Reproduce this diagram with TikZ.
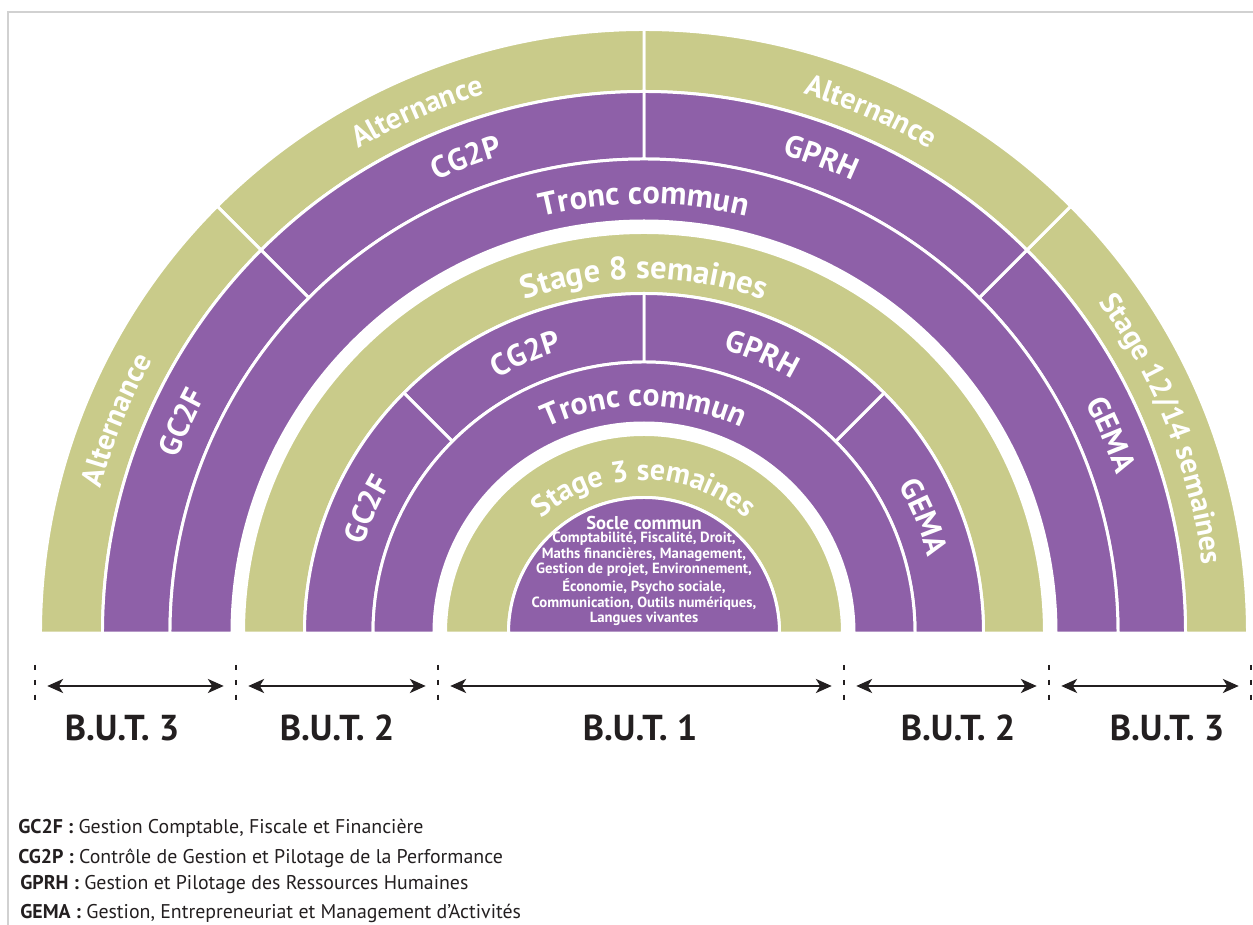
\documentclass[tikz,border=0pt]{standalone}
\usepackage{fontspec}
\setmainfont{PT Sans}
\usetikzlibrary{decorations.text,arrows.meta}
\definecolor{ringolive}{HTML}{C9CB8A}
\definecolor{ringpurple}{HTML}{8E60A8}
\definecolor{inkdark}{HTML}{231F20}
\tikzset{oband/.style={fill=ringolive,draw=white,line width=1.7pt,line join=round}}
\tikzset{pband/.style={fill=ringpurple,draw=white,line width=1.7pt,line join=round}}
\tikzset{tick/.style={draw=inkdark,line width=1.3pt,dash pattern=on 3pt off 5.4pt}}
\tikzset{butspan/.style={<->,>={Stealth[length=9pt,width=8pt,inset=2.5pt]},draw=inkdark,line width=1.2pt,shorten <=7pt,shorten >=7pt}}
\tikzset{but/.style={font=\bfseries\fontsize{20.5}{20.5}\selectfont,text=inkdark}}
\tikzset{key/.style={anchor=west,inner sep=0pt,font=\fontsize{11.3}{11.3}\selectfont,text=inkdark}}
\tikzset{socle/.style={text=white,align=center,inner sep=0pt}}
\tikzset{frame/.style={draw=black!18,line width=0.8pt}}
% annular sector: style, from angle, to angle, outer r, inner r
\newcommand{\band}[5]{\path[#1] (#2:#4) arc[start angle=#2,end angle=#3,radius=#4] -- (#3:#5) arc[start angle=#3,end angle=#2,radius=#5] -- cycle;}
% white text along a ring: text, centre angle, baseline r, size
\newcommand{\ringlabel}[4]{\path[decorate,decoration={text along path,text align=center,text={|\color{white}\bfseries\fontsize{#4}{#4}\selectfont|#1}}] ({#2+60}:#3) arc[start angle={#2+60},end angle={#2-60},radius=#3];}

\begin{document}
\begin{tikzpicture}[x=0.02cm,y=0.02cm]
\useasboundingbox (-644,-292) rectangle (609,633);
\draw[frame] (609,621) -- (-636,621) -- (-636,-292);

% B.U.T. 3
\foreach \a in {0,45,90,135} {
  \band{oband}{\a}{\a+45}{603.5}{541.5}
  \band{pband}{\a}{\a+45}{541.5}{474}
}
\band{pband}{0}{180}{474}{412}
% B.U.T. 2
\band{oband}{0}{180}{400.5}{339.5}
\foreach \a in {0,45,90,135} {
  \band{pband}{\a}{\a+45}{339.5}{271}
}
\band{pband}{0}{180}{271}{210}
% B.U.T. 1
\band{oband}{0}{180}{198.5}{135.5}
\path[pband] (0:135.5) arc[start angle=0,end angle=180,radius=135.5] -- cycle;

\ringlabel{Alternance}{158}{562}{17}
\ringlabel{Alternance}{113.5}{562}{17}
\ringlabel{Alternance}{66.5}{562}{17}
\ringlabel{Stage 12/14 semaines}{21.5}{562}{17}
\ringlabel{GC2F}{155.5}{498}{17.5}
\ringlabel{CG2P}{110.5}{498}{17.5}
\ringlabel{GPRH}{69.5}{498}{17.5}
\ringlabel{GEMA}{23}{498}{17.5}
\ringlabel{Tronc commun}{90}{429}{18.5}
\ringlabel{Stage 8 semaines}{90}{354}{18.5}
\ringlabel{GC2F}{156}{294}{17.5}
\ringlabel{CG2P}{113}{294}{17.5}
\ringlabel{GPRH}{67}{294}{17.5}
\ringlabel{GEMA}{22.5}{294}{17.5}
\ringlabel{Tronc commun}{90}{227}{18}
\ringlabel{Stage 3 semaines}{90}{153}{17}

\node[socle,font=\bfseries\fontsize{10.6}{10.6}\selectfont] (soclecommun) at (0,110) {Socle commun};
\node[socle,font=\bfseries\fontsize{8.4}{8.8}\selectfont] (matieres) at (0,54) {Comptabilité, Fiscalité, Droit,\\Maths financières, Management,\\Gestion de projet, Environnement,\\Économie, Psycho sociale,\\Communication, Outils numériques,\\Langues vivantes};

\foreach \x [count=\i from 0] in {-609,-408,-206,200,405,607} {
  \draw[tick] (\x,-32) -- (\x,-67);
  \coordinate (m\i) at (\x,-53);
}
\draw[butspan] (m0) -- (m1);
\draw[butspan] (m1) -- (m2);
\draw[butspan] (m2) -- (m3);
\draw[butspan] (m3) -- (m4);
\draw[butspan] (m4) -- (m5);

\node[but] (but3l) at (-522,-95) {B.U.T. 3};
\node[but] (but2l) at (-307,-95) {B.U.T. 2};
\node[but] (but1) at (-4,-95) {B.U.T. 1};
\node[but] (but2r) at (314,-95) {B.U.T. 2};
\node[but] (but3r) at (523,-95) {B.U.T. 3};

\node[key] (gc2f) at (-626,-195) {\textbf{GC2F :} Gestion Comptable, Fiscale et Financière};
\node[key] (cg2p) at (-626,-225) {\textbf{CG2P :} Contrôle de Gestion et Pilotage de la Performance};
\node[key] (gprh) at (-624,-252) {\textbf{GPRH :} Gestion et Pilotage des Ressources Humaines};
\node[key] (gema) at (-624,-280) {\textbf{GEMA :} Gestion, Entrepreneuriat et Management d’Activités};
\end{tikzpicture}
\end{document}
